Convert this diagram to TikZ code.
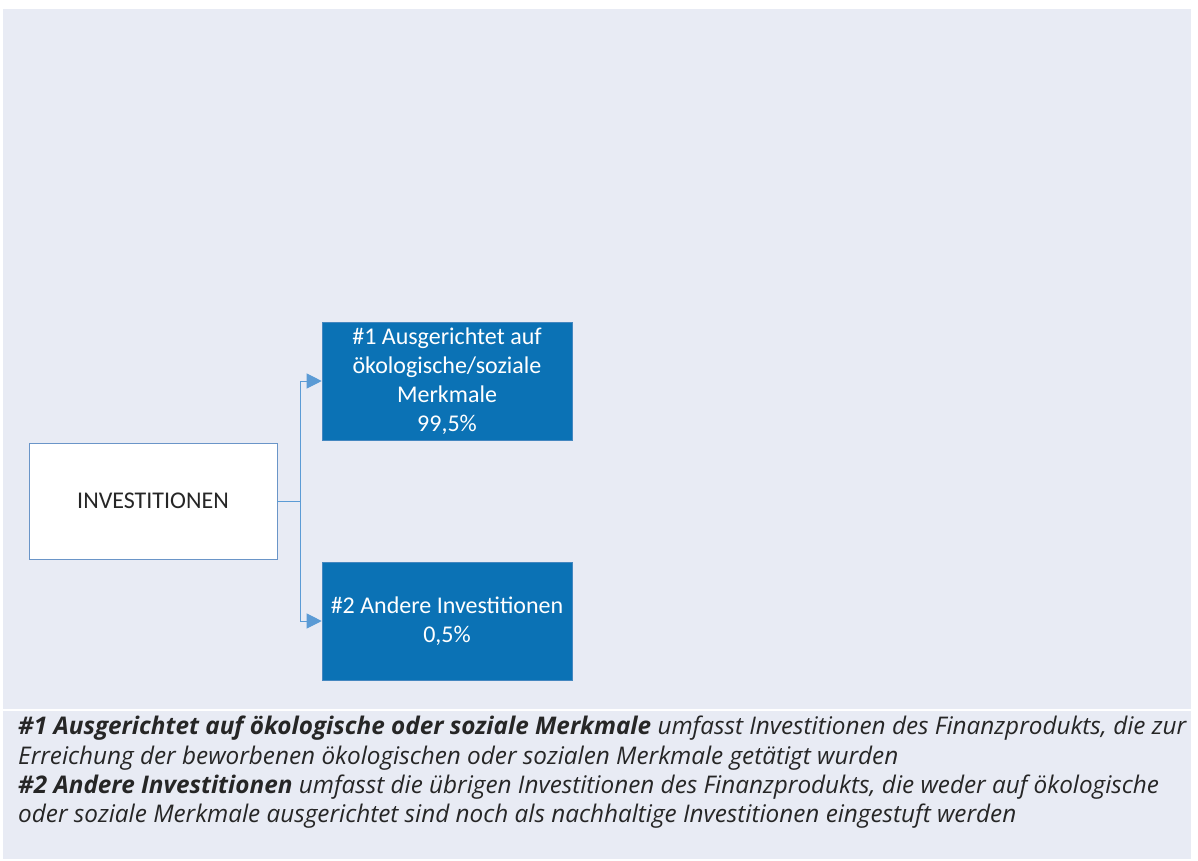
\documentclass[tikz,border=0pt]{standalone}
\usepackage{fontspec}
\setmainfont{Carlito}
\newfontfamily\notefont{Open Sans}
\usetikzlibrary{positioning,arrows.meta}

\definecolor{panelbg}{HTML}{E8EBF4}
\definecolor{boxblue}{HTML}{0B72B5}
\definecolor{linkblue}{HTML}{5B9BD5}
\definecolor{edgeblue}{HTML}{6A95C8}
\definecolor{inktext}{HTML}{262626}

\begin{document}
\begin{tikzpicture}[x=1pt,y=-1pt,
  every node/.style={inner sep=0pt,align=center},
  startbox/.style={draw=edgeblue,fill=white,line width=0.8pt,minimum width=248pt,minimum height=116pt,
    text=inktext,font=\fontsize{24}{29}\selectfont},
  sharebox/.style={draw=edgeblue!60!boxblue,fill=boxblue,line width=0.6pt,minimum width=250pt,minimum height=118pt,
    text=white,font=\fontsize{24}{29}\selectfont},
  link/.style={draw=linkblue,line width=1pt},
  linkarrow/.style={link,-{Triangle[length=15pt,width=15pt,fill=linkblue]}}]
\useasboundingbox (0,0) rectangle (1198,860);
\fill[panelbg] (3,9) rectangle (1191,709);
\fill[panelbg] (3,711) rectangle (1191,859);

\node[startbox] (inv) at (153,501) {INVESTITIONEN};
\node[sharebox] (s1) at (447,381) {\#1 Ausgerichtet auf\\ökologische/soziale\\Merkmale\\99,5\%};
\node[sharebox] (s2) at (447,621) {\#2 Andere Investitionen\\0,5\%};

\draw[link] (inv.east) -- ++(23,0) coordinate (fork);
\draw[linkarrow] (fork) |- (s1.west);
\draw[linkarrow] (fork) |- (s2.west);

% notes under the chart
\node[anchor=north west,align=left,text=inktext,font=\notefont\fontsize{24.3}{29.3}\selectfont\itshape]
  (notes) at (18,716)
  {\textbf{\#1 Ausgerichtet auf ökologische oder soziale Merkmale} umfasst Investitionen des Finanzprodukts, die zur\\
   Erreichung der beworbenen ökologischen oder sozialen Merkmale getätigt wurden\\
   \textbf{\#2 Andere Investitionen} umfasst die übrigen Investitionen des Finanzprodukts, die weder auf ökologische\\
   oder soziale Merkmale ausgerichtet sind noch als nachhaltige Investitionen eingestuft werden};
\end{tikzpicture}
\end{document}
